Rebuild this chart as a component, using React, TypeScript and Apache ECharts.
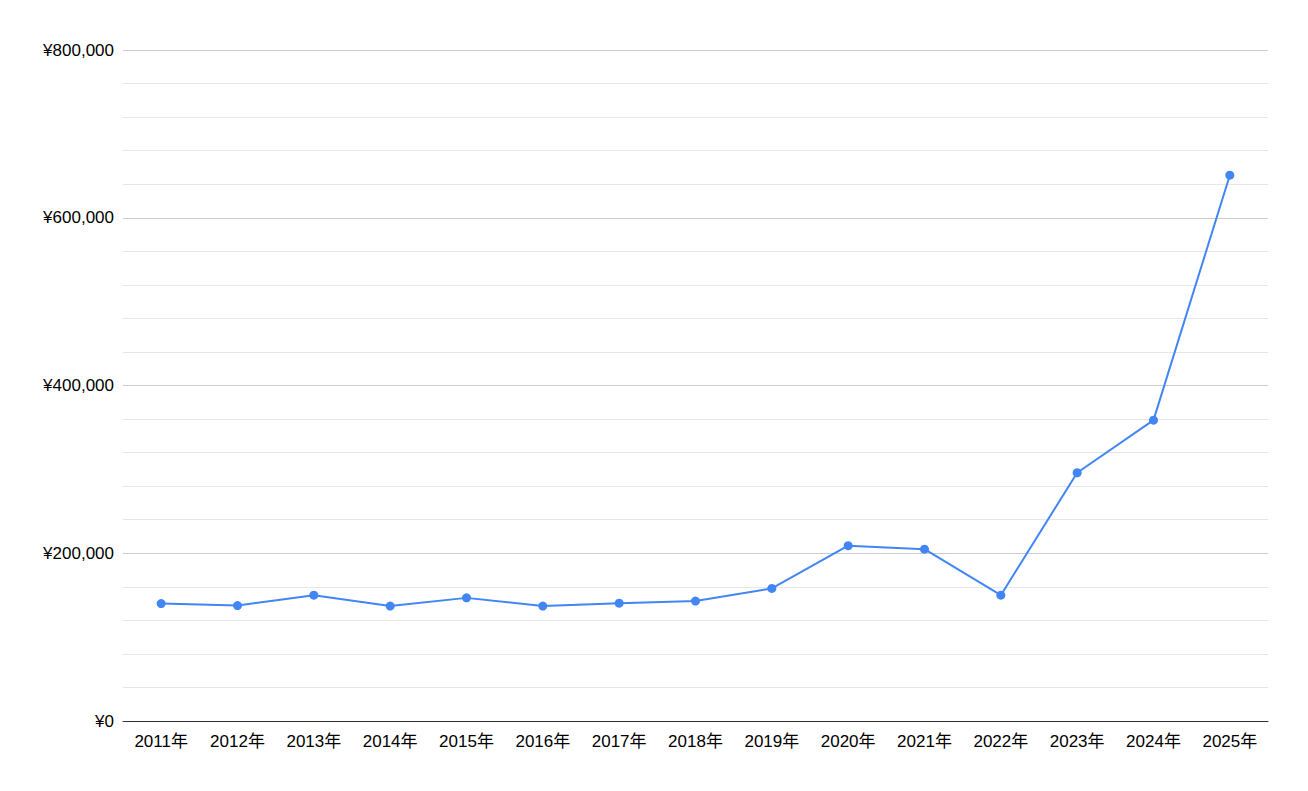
import React, { useEffect, useRef } from "react";
import * as echarts from "echarts";

const categories = ["2011年", "2012年", "2013年", "2014年", "2015年", "2016年", "2017年", "2018年", "2019年", "2020年", "2021年", "2022年", "2023年", "2024年", "2025年"];
const values = [140000, 137600, 150000, 137000, 146800, 137000, 140500, 143000, 158000, 209000, 204800, 150000, 296000, 358700, 650700];

const FONT = "'Liberation Sans', Arial, 'Noto Sans CJK JP', sans-serif";

export default function App() {
  const ref = useRef<HTMLDivElement>(null);
  useEffect(() => {
    const chart = echarts.init(ref.current!, null, { renderer: "svg" });
    chart.setOption({
      animation: false,
      backgroundColor: "#ffffff",
      grid: { left: 123, right: 40, top: 50, bottom: 70 },
      xAxis: {
        type: "category",
        data: categories,
        boundaryGap: true,
        axisLine: { show: true, lineStyle: { color: "#333333", width: 1 } },
        axisTick: { show: false },
        axisLabel: { color: "#000000", fontSize: 17, fontFamily: FONT, margin: 12 },
      },
      yAxis: {
        type: "value",
        min: 0,
        max: 800000,
        interval: 200000,
        axisLine: { show: false },
        axisTick: { show: false },
        axisLabel: {
          color: "#000000",
          fontSize: 17,
          fontFamily: FONT,
          margin: 9,
          formatter: (v: number) => "¥" + v.toLocaleString("en-US"),
        },
        splitLine: { show: true, lineStyle: { color: "#cccccc", width: 1 } },
        minorTick: { show: false, splitNumber: 5 },
        minorSplitLine: { show: true, lineStyle: { color: "#e6e6e6", width: 1 } },
      },
      series: [
        {
          type: "line",
          data: values,
          symbol: "circle",
          symbolSize: 9,
          showSymbol: true,
          lineStyle: { color: "#4285f4", width: 2 },
          itemStyle: { color: "#4285f4" },
        },
      ],
    });
    return () => chart.dispose();
  }, []);
  return <div ref={ref} style={{ position: "absolute", left: 0, top: 0, width: 1308, height: 791 }} />;
}
